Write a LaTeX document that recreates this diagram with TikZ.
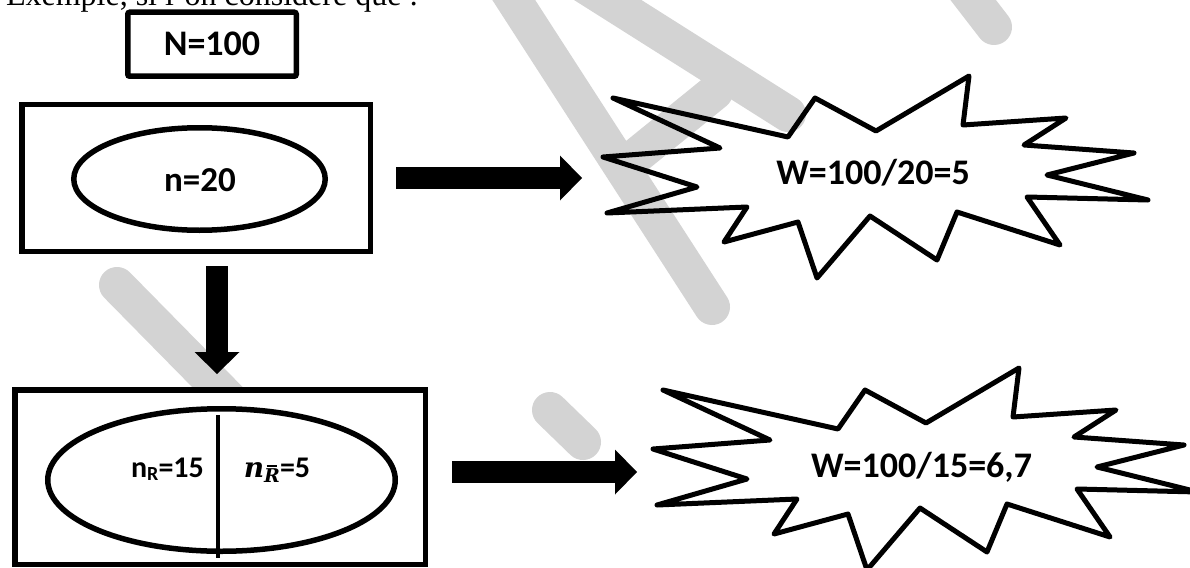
\documentclass[tikz,border=0pt]{standalone}
\usepackage{fontspec}
\setmainfont{Liberation Serif}
\newfontfamily\calib{Carlito}
\newfontfamily\mathserif{DejaVu Serif}
\usetikzlibrary{shapes.geometric,arrows.meta,calc}
\definecolor{wmgrey}{RGB}{211,211,211}
\begin{document}
\begin{tikzpicture}[x=1pt,y=-1pt,
  wm/.style={draw=wmgrey,line width=36pt,line cap=round},
  frame/.style={draw=black,line width=5.5pt,fill=white,rectangle,inner sep=0pt},
  oval/.style={draw=black,line width=5.5pt,ellipse,inner sep=0pt},
  blockarrow/.style={draw=black,line width=22pt,-{Triangle[length=22pt,width=45pt,line width=0pt]}},
  burst/.style={draw=black,line width=5pt,line join=round},
  lbl/.style={inner sep=0pt,font=\calib\bfseries\fontsize{36}{40}\selectfont}]
\useasboundingbox (0,0) rectangle (1190,567);
\clip (0,0) rectangle (1190,567);
\fill[white] (0,0) rectangle (1190,567);
% watermark strokes
\draw[wm] (475,-60) -- (712,307);
\draw[wm] (565,-27) -- (788,114);
\draw[wm] (715,92) -- (625,165);
\draw[wm] (117,285) -- (240,410);
\draw[wm] (550,410) -- (583,442);
\draw[wm] (950,-30) -- (994,27);
% intro text
\node[anchor=base west,inner sep=0pt,outer sep=0pt,font=\fontsize{32}{36}\selectfont] (intro) at (6,5.5) {Exemple, si l’on considère que :};
% boxes
\node[frame,rounded corners=2pt,minimum width=168.5pt,minimum height=64pt,font=\calib\bfseries\fontsize{36}{40}\selectfont] (N) at (212,44.25) {N=100};
\node[frame,minimum width=348.5pt,minimum height=146.5pt] (box1) at (196,178) {};
\node[oval,minimum width=251.5pt,minimum height=102.5pt] (ell1) at (199.5,179) {};
\node[lbl,font=\calib\bfseries\fontsize{35}{40}\selectfont] (n20) at (200,180.5) {n=20};
\node[frame,minimum width=410.5pt,minimum height=174.5pt] (box2) at (220,477) {};
\node[oval,minimum width=347.5pt,minimum height=142.5pt] (ell2) at (221.5,480) {};
\coordinate (divtop) at (218,415);
\coordinate (divbot) at (218,558);
\draw[line width=3.5pt] (divtop) -- (divbot);
\node[anchor=base,inner sep=0pt,font=\calib\bfseries\fontsize{30}{34}\selectfont] (nR) at (167.5,477) {n\raisebox{-3.5pt}{\fontsize{20}{22}\selectfont R}=15};
\node[anchor=base,inner sep=0pt,font=\calib\bfseries\fontsize{30}{34}\selectfont] (nRbar) at (277,477) {{\mathserif\itshape\fontsize{28}{30}\selectfont n}\raisebox{-5pt}{\mathserif\itshape\fontsize{19}{22}\selectfont\rlap{\hspace{2.5pt}\rule[15.5pt]{10pt}{1.2pt}}R}=5};
% arrows
\coordinate (a1s) at (396,178);
\coordinate (a1e) at (582,178);
\coordinate (a2s) at (452,472);
\coordinate (a2e) at (637,472);
\coordinate (a3s) at (217,266);
\coordinate (a3e) at (217,374);
\draw[blockarrow] (a1s) -- (a1e);
\draw[blockarrow] (a2s) -- (a2e);
\draw[blockarrow] (a3s) -- (a3e);
% starbursts
\foreach \dx/\dy in {0/0,50/292}{
\begin{scope}[shift={(\dx,\dy)}]
\draw[burst] (613,98) -- (788,137) -- (815,98) -- (876,131) -- (969,76) -- (963,125) -- (1066,118) -- (1024,145) -- (1134,153) -- (1047,175) -- (1148,200) -- (1027,197) -- (1060,245) -- (957,212) -- (937,260) -- (870,216) -- (817,278) -- (798,222) -- (724,242) -- (747,207) -- (607,213) -- (697,187) -- (603,157) -- (720,148) -- cycle;
\end{scope}}
\node[lbl] (w1) at (873,173) {W=100/20=5};
\node[lbl] (w2) at (921.5,467) {W=100/15=6,7};
\end{tikzpicture}
\end{document}
